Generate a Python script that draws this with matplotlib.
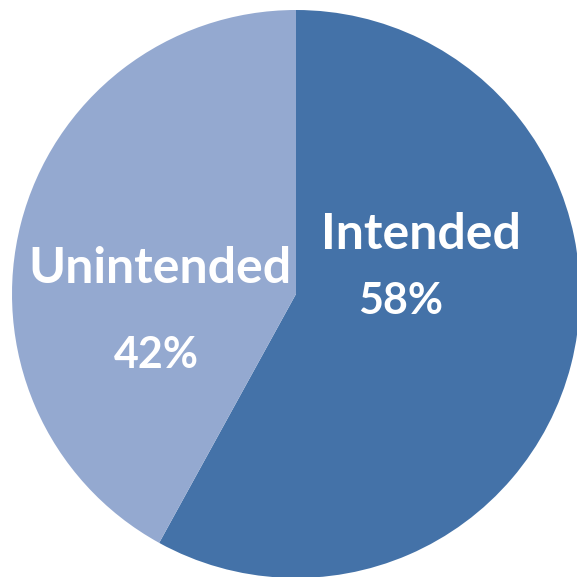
import matplotlib
matplotlib.use("Agg")
import matplotlib.pyplot as plt

labels = ["Intended", "Unintended"]
shares = [58, 42]
colors = ["#4472A8", "#94A9D0"]

# where the label and percent sit inside each slice (data units, radius 1)
label_pos = [(0.44, 0.21), (-0.48, 0.09)]
pct_pos = [(0.37, -0.025), (-0.49, -0.215)]

fig = plt.figure(figsize=(5.77, 5.77), dpi=100)
ax = fig.add_axes([0, 0, 1, 1])
ax.pie(shares, colors=colors, startangle=90, counterclock=False,
       wedgeprops={"linewidth": 0})
ax.set_xlim(-296 / 284, 281 / 284)
ax.set_ylim(-283 / 284, 294 / 284)
ax.set_aspect("equal")
ax.axis("off")

for name, val, lp, pp in zip(labels, shares, label_pos, pct_pos):
    ax.text(lp[0], lp[1], name, color="white", fontsize=36, fontweight="bold",
            family="Lato", ha="center", va="center")
    ax.text(pp[0], pp[1], f"{val}%", color="white", fontsize=31, fontweight="bold",
            family="Lato", ha="center", va="center")

fig.savefig("out.png", dpi=100)
